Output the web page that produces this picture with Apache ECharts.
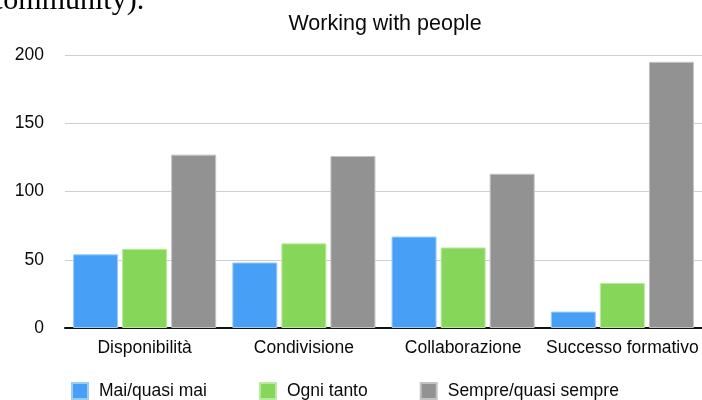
<!DOCTYPE html>
<html>
<head>
<meta charset="utf-8">
<script src="https://cdn.jsdelivr.net/npm/echarts@6/dist/echarts.min.js"></script>
<style>
  html, body { margin: 0; padding: 0; background: #ffffff; }
  #chart { width: 702px; height: 400px; }
</style>
</head>
<body>
<div id="chart"></div>
<script>
// Survey answers per competence area
const categories = ['Disponibilità', 'Condivisione', 'Collaborazione', 'Successo formativo'];
const seriesNames = ['Mai/quasi mai', 'Ogni tanto', 'Sempre/quasi sempre'];
const maiQuasiMai = [54, 48, 67, 12];
const ogniTanto = [58, 62, 59, 33];
const sempreQuasiSempre = [127, 126, 113, 195];
const yTicks = [0, 50, 100, 150, 200];

const colors = ['#479ff6', '#86d65a', '#929292'];
const borders = ['#9ccbf8', '#b9eaa0', '#c2c2c2'];
const values = [maiQuasiMai, ogniTanto, sempreQuasiSempre];

const font = '"Liberation Sans", Arial, Helvetica, sans-serif';
const labelSize = 17.5;

const chart = echarts.init(document.getElementById('chart'), null, { renderer: 'canvas' });

chart.setOption({
  animation: false,
  backgroundColor: '#ffffff',
  textStyle: { fontFamily: font },
  graphic: [{
    // tail of the preceding paragraph, cut by the top edge
    type: 'text',
    left: -10,
    top: -14,
    style: {
      text: 'community).',
      font: '30px "Liberation Serif", "Times New Roman", serif',
      fill: '#000000'
    }
  }],
  title: {
    text: 'Working with people',
    left: 380,
    top: 8,
    textAlign: 'center',
    textStyle: { fontFamily: font, fontSize: 21.5, fontWeight: 'normal', color: '#0a0a0a' }
  },
  legend: {
    left: 66,
    top: 377,
    itemWidth: 16,
    itemHeight: 16,
    itemGap: 52,
    icon: 'rect',
    textStyle: { fontFamily: font, fontSize: labelSize, color: '#0a0a0a', padding: [0, 0, 0, 6] },
    data: seriesNames
  },
  grid: { left: 65, right: 0, top: 55, bottom: 72, containLabel: false },
  xAxis: {
    type: 'category',
    data: categories,
    axisLine: { lineStyle: { color: '#111111', width: 2 } },
    axisTick: { show: false },
    axisLabel: { interval: 0, fontFamily: font, fontSize: labelSize, color: '#0a0a0a', margin: 11 }
  },
  yAxis: {
    type: 'value',
    min: yTicks[0],
    max: yTicks[yTicks.length - 1],
    interval: yTicks[1] - yTicks[0],
    axisLine: { show: false },
    axisTick: { show: false },
    splitLine: { lineStyle: { color: '#cfcfcf', width: 1 } },
    axisLabel: { fontFamily: font, fontSize: labelSize, color: '#0a0a0a', margin: 21 }
  },
  series: seriesNames.map((name, i) => ({
    name,
    type: 'bar',
    data: values[i],
    barWidth: 45,
    barGap: '9%',
    itemStyle: { color: colors[i], borderColor: borders[i], borderWidth: 1 }
  }))
});
</script>
</body>
</html>
